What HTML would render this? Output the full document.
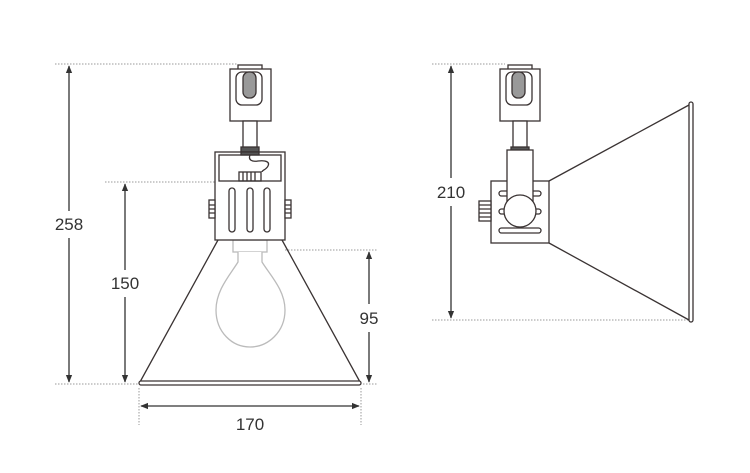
<!DOCTYPE html>
<html><head><meta charset="utf-8"><style>
html,body{margin:0;padding:0;background:#fff;}
svg{display:block}
text{font-family:"Liberation Sans",sans-serif;font-size:17px;fill:#333;text-anchor:middle}
</style></head><body>
<svg width="750" height="473" viewBox="0 0 750 473" xmlns="http://www.w3.org/2000/svg">
<defs>
<marker id="a" viewBox="0 0 10 10" refX="9" refY="5" markerWidth="8" markerHeight="8" orient="auto-start-reverse" markerUnits="userSpaceOnUse"><path d="M0,1 L10,5 L0,9 z" fill="#333"/></marker>
</defs>
<g stroke="#bbb" stroke-width="1.5" stroke-dasharray="1.5,1.5" fill="none">
<line x1="55" y1="64" x2="237" y2="64"/>
<line x1="55" y1="384" x2="140" y2="384"/>
<line x1="105" y1="182" x2="215" y2="182"/>
<line x1="285" y1="250" x2="378" y2="250"/>
<line x1="360" y1="384" x2="378" y2="384"/>
<line x1="139" y1="388" x2="139" y2="425"/>
<line x1="361" y1="388" x2="361" y2="425"/>
<line x1="432" y1="64" x2="505" y2="64"/>
<line x1="432" y1="320" x2="690" y2="320"/>
</g>
<g stroke="#333" stroke-width="1.3" fill="none">
<line x1="69" y1="66" x2="69" y2="211" marker-start="url(#a)"/>
<line x1="69" y1="238" x2="69" y2="382" marker-end="url(#a)"/>
<line x1="125" y1="184" x2="125" y2="270" marker-start="url(#a)"/>
<line x1="125" y1="297" x2="125" y2="382" marker-end="url(#a)"/>
<line x1="369" y1="252" x2="369" y2="304" marker-start="url(#a)"/>
<line x1="369" y1="332" x2="369" y2="382" marker-end="url(#a)"/>
<line x1="141" y1="406" x2="359" y2="406" marker-start="url(#a)" marker-end="url(#a)"/>
<line x1="451" y1="66" x2="451" y2="178" marker-start="url(#a)"/>
<line x1="451" y1="206" x2="451" y2="318" marker-end="url(#a)"/>
</g>
<text x="69" y="230">258</text>
<text x="125" y="289">150</text>
<text x="369" y="324">95</text>
<text x="250" y="430">170</text>
<text x="451" y="198">210</text>

<!-- left lamp -->
<g fill="#fff" stroke="#bbb" stroke-width="1.3">
<rect x="233" y="240" width="34" height="12"/>
<path d="M238,252 L238,262 C230,275 216,290 216,310 C216,332 232,347 250,347 C268,347 285,332 285,310 C285,290 270,275 262,262 L262,252"/>
</g>
<g fill="none" stroke="#3a3333" stroke-width="1.3">
<path d="M218,240 L140,382 M282,240 L360,382"/>
<rect x="139" y="381" width="222" height="4" rx="2" fill="#fff"/>
<rect x="238" y="65" width="24" height="5" fill="#fff"/>
<rect x="230" y="69" width="41" height="52" fill="#fff"/>
<rect x="236" y="72" width="26" height="33" rx="6"/>
<rect x="243" y="72" width="13" height="26" rx="6" fill="#999"/>
<rect x="243" y="121" width="14" height="27" fill="#fff"/>
<rect x="241" y="147" width="18" height="5" fill="#555"/>
<rect x="215" y="152" width="70" height="88" fill="#fff"/>
<rect x="219" y="155" width="62" height="26"/>
<rect x="241" y="152" width="18" height="3" fill="#555"/>
<path d="M250,155 C248,160 252,162 258,161 C266,160 270,162 268,166 C266,170 262,170 262,172"/>
<rect x="239" y="172" width="22" height="9"/>
<path d="M243,172 v9 M247,172 v9 M251,172 v9 M255,172 v9"/>
<rect x="229" y="188" width="6" height="44" rx="3"/>
<rect x="247" y="188" width="6" height="44" rx="3"/>
<rect x="264" y="188" width="6" height="44" rx="3"/>
<rect x="209" y="200" width="6" height="18" fill="#fff"/>
<rect x="285" y="200" width="6" height="18" fill="#fff"/>
<path d="M209,205 h6 M209,209 h6 M209,213 h6 M285,205 h6 M285,209 h6 M285,213 h6"/>
</g>

<!-- right lamp -->
<g fill="none" stroke="#3a3333" stroke-width="1.3">
<path d="M549,181 L689,105 M549,243 L689,320"/>
<rect x="689" y="102" width="4" height="220" rx="2" fill="#fff"/>
<rect x="508" y="65" width="24" height="5" fill="#fff"/>
<rect x="500" y="69" width="40" height="52" fill="#fff"/>
<rect x="506" y="72" width="26" height="33" rx="6"/>
<rect x="512" y="72" width="13" height="26" rx="6" fill="#999"/>
<rect x="513" y="121" width="14" height="27" fill="#fff"/>
<rect x="511" y="147" width="18" height="5" fill="#555"/>
<rect x="491" y="181" width="58" height="62" fill="#fff"/>
<rect x="499" y="191" width="42" height="5" rx="2.5"/>
<rect x="499" y="209" width="42" height="5" rx="2.5"/>
<rect x="499" y="228" width="42" height="5" rx="2.5"/>
<rect x="507" y="150" width="26" height="55" fill="#fff"/>
<circle cx="520" cy="211" r="16" fill="#fff"/>
<rect x="479" y="201" width="12" height="20" fill="#fff"/>
<path d="M479,205 h12 M479,209 h12 M479,213 h12 M479,217 h12"/>
</g>
</svg>
</body></html>
